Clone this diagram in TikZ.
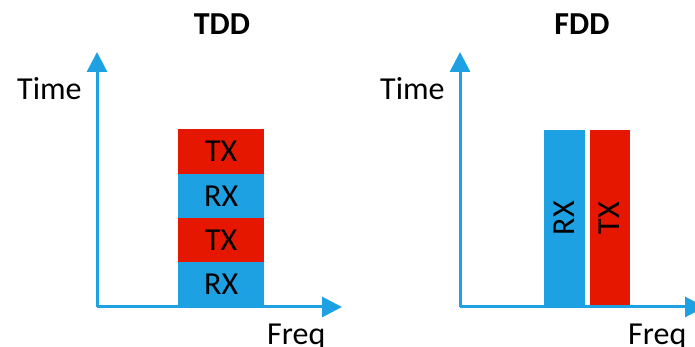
\documentclass[tikz,border=0pt]{standalone}
\usepackage{fontspec}
\setmainfont{Carlito}
\usetikzlibrary{positioning,arrows.meta}

\definecolor{rxblue}{HTML}{1DA1E2}
\definecolor{txred}{HTML}{E51700}

\tikzstyle{slot} = [rectangle, inner sep=0, minimum width=86pt, minimum height=44.5pt, font=\fontsize{32}{38}\selectfont]
\tikzstyle{band} = [rectangle, inner sep=0, minimum height=177pt, font=\fontsize{32}{38}\selectfont]
\tikzstyle{axtext} = [inner sep=0, font=\fontsize{32}{38}\selectfont]
\tikzstyle{axisline} = [draw=rxblue, line width=3pt, -{Triangle[length=20pt, width=20pt]}]

\begin{document}
\begin{tikzpicture}[x=1pt, y=1pt]
	\useasboundingbox (0,0) rectangle (695,347);

	% TDD: one band, slots in time
	\node[slot, fill=rxblue, anchor=south west] (rx1) at (178,40) {RX};
	\node[slot, fill=txred, above=-0.5pt of rx1] (tx1) {TX};
	\node[slot, fill=rxblue, above=-0.5pt of tx1] (rx2) {RX};
	\node[slot, fill=txred, above=-0.5pt of rx2] (tx2) {TX};

	\coordinate (o1) at (97,40);
	\coordinate (t1) at (97,295);
	\coordinate (f1) at (342,40);
	\path[axisline] (o1) -- (t1);
	\path[axisline] (o1) -- (f1);

	\node[axtext, font=\fontsize{32}{38}\selectfont\bfseries, anchor=base] (tdd) at (222,312) {TDD};
	\node[axtext, anchor=base west] (time1) at (17,247) {Time};
	\node[axtext, anchor=base west] (freq1) at (267,2) {Freq};

	% FDD: two bands side by side
	\node[band, fill=rxblue, minimum width=41pt, anchor=south west] (rxb) at (544,40) {\rotatebox{90}{RX}};
	\node[band, fill=txred, minimum width=40pt, right=4pt of rxb] (txb) {\rotatebox{90}{TX}};

	\coordinate (o2) at (460,40);
	\coordinate (t2) at (460,295);
	\coordinate (f2) at (705,40);
	\path[axisline] (o2) -- (t2);
	\path[axisline] (o2) -- (f2);

	\node[axtext, font=\fontsize{32}{38}\selectfont\bfseries, anchor=base] (fdd) at (582,312) {FDD};
	\node[axtext, anchor=base west] (time2) at (380,247) {Time};
	\node[axtext, anchor=base west] (freq2) at (628,2) {Freq};
\end{tikzpicture}
\end{document}
